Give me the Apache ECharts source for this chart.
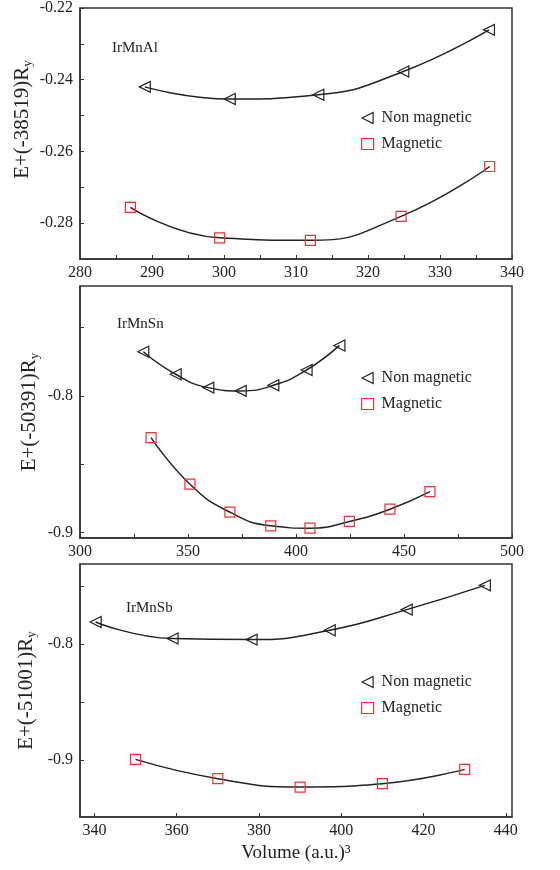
<!DOCTYPE html>
<html>
<head>
<meta charset="utf-8">
<script src="https://cdn.jsdelivr.net/npm/echarts@6/dist/echarts.min.js"></script>
<style>
html, body { margin: 0; padding: 0; background: #fff; }
#chart { width: 560px; height: 870px; }
</style>
</head>
<body>
<div id="chart"></div>
<script>
// IrMnAl
const alNonVol = [289.0, 300.8, 313.1, 324.9, 336.8];
const alNonE = [-0.2420, -0.2454, -0.2442, -0.2377, -0.2261];
const alMagVol = [287.0, 299.4, 312.0, 324.6, 336.9];
const alMagE = [-0.2756, -0.2841, -0.2848, -0.2781, -0.2642];
// IrMnSn
const snNonVol = [329.3, 344.3, 359.4, 374.4, 389.5, 404.9, 420.1];
const snNonE = [-0.7676, -0.7841, -0.7939, -0.7963, -0.7922, -0.7810, -0.7630];
const snMagVol = [332.9, 350.9, 369.4, 388.3, 406.5, 424.7, 443.5, 462.0];
const snMagE = [-0.8305, -0.8646, -0.8851, -0.8951, -0.8968, -0.8919, -0.8829, -0.8700];
// IrMnSb
const sbNonVol = [340.3, 359.0, 378.2, 397.2, 415.9, 434.9];
const sbNonE = [-0.7811, -0.7954, -0.7963, -0.7883, -0.7705, -0.7496];
const sbMagVol = [350, 370, 390, 410, 430];
const sbMagE = [-0.8994, -0.9160, -0.9232, -0.9203, -0.9080];

// axis ticks / labels
const alXTicks = [280, 285, 290, 295, 300, 305, 310, 315, 320, 325, 330, 335, 340];
const alXLabels = [280, 290, 300, 310, 320, 330, 340];
const alYTicks = [-0.28, -0.27, -0.26, -0.25, -0.24, -0.23, -0.22];
const alYLabels = [-0.28, -0.26, -0.24, -0.22];
const snXTicks = [300, 325, 350, 375, 400, 425, 450, 475, 500];
const snXLabels = [300, 350, 400, 450, 500];
const snYTicks = [-0.9, -0.85, -0.8, -0.75];
const snYLabels = [-0.9, -0.8];
const sbXTicks = [340, 360, 380, 400, 420, 440];
const sbXLabels = [340, 360, 380, 400, 420, 440];
const sbYTicks = [-0.9, -0.85, -0.8, -0.75];
const sbYLabels = [-0.9, -0.8];

const names = ['IrMnAl', 'IrMnSn', 'IrMnSb'];
const offsets = ['-38519', '-50391', '-51001'];

const FONT = '"Liberation Serif", "DejaVu Serif", serif';
const TEXT = '#222';
const triIcon = 'path://M0,5L10,0L10,10Z';

const panels = [
    { top: 8, height: 251, x: [280, 340], y: [-0.29, -0.22], xt: alXTicks, xl: alXLabels, yt: alYTicks, yl: alYLabels,
      non: [alNonVol, alNonE], mag: [alMagVol, alMagE], gap: 46, shift: 28, label: [112, 41], legendTop: 105 },
    { top: 286, height: 252, x: [300, 500], y: [-0.904, -0.7195], xt: snXTicks, xl: snXLabels, yt: snYTicks, yl: snYLabels,
      non: [snNonVol, snNonE], mag: [snMagVol, snMagE], gap: 39, shift: 0, label: [117, 317], legendTop: 365 },
    { top: 564, height: 253, x: [336.5, 441.5], y: [-0.949, -0.7312], xt: sbXTicks, xl: sbXLabels, yt: sbYTicks, yl: sbYLabels,
      non: [sbNonVol, sbNonE], mag: [sbMagVol, sbMagE], gap: 42, shift: 0, label: [126, 601], legendTop: 669 }
];

const zip = (a, b) => a.map((v, i) => [v, b[i]]);

const option = {
    backgroundColor: '#fff',
    animation: false,
    title: [],
    legend: [],
    grid: [],
    xAxis: [],
    yAxis: [],
    series: []
};

panels.forEach((p, i) => {
    option.grid.push({
        left: 80, width: 432, top: p.top, height: p.height,
        outerBoundsMode: 'none', containLabel: false,
        show: true, borderColor: '#333', borderWidth: 1.5, backgroundColor: 'transparent'
    });
    option.title.push({
        text: names[i], left: p.label[0], top: p.label[1], padding: 0,
        textStyle: { fontFamily: FONT, fontSize: 15, fontWeight: 'normal', color: TEXT }
    });
    option.xAxis.push({
        type: 'value', gridIndex: i, min: p.x[0], max: p.x[1],
        name: i === 2 ? 'Volume (a.u.)\u00b3' : '',
        nameLocation: 'middle', nameGap: 27, nameMoveOverlap: false,
        nameTextStyle: { fontFamily: FONT, fontSize: 19, color: TEXT },
        axisLine: { lineStyle: { color: '#333', width: 1.5 } },
        axisTick: { inside: true, length: 4, customValues: p.xt, lineStyle: { color: '#333' } },
        axisLabel: { customValues: p.xl, fontFamily: FONT, fontSize: 16, color: TEXT, margin: 6 },
        splitLine: { show: false }
    });
    option.yAxis.push({
        type: 'value', gridIndex: i, min: p.y[0], max: p.y[1],
        name: '{a|E+(' + offsets[i] + ')R}{b|y}',
        nameLocation: 'middle', nameGap: p.gap, nameMoveOverlap: false,
        nameTextStyle: {
            color: TEXT,
            padding: [0, 0, 0, p.shift],
            rich: {
                a: { fontFamily: FONT, fontSize: 21, color: TEXT, lineHeight: 24 },
                b: { fontFamily: FONT, fontSize: 13, color: TEXT, lineHeight: 13, verticalAlign: 'bottom' }
            }
        },
        axisLine: { lineStyle: { color: '#333', width: 1.5 } },
        axisTick: { inside: true, length: 4, customValues: p.yt, lineStyle: { color: '#333' } },
        axisLabel: { customValues: p.yl, fontFamily: FONT, fontSize: 16, color: TEXT, margin: 7 },
        splitLine: { show: false }
    });
    option.legend.push({
        orient: 'vertical', left: 356, top: p.legendTop,
        itemWidth: 12, itemHeight: 11, itemGap: 10,
        textStyle: { fontFamily: FONT, fontSize: 16, color: TEXT, padding: [0, 0, 0, 3] },
        data: [
            { name: 'Non magnetic' + ' '.repeat(i), icon: triIcon, itemStyle: { color: 'transparent', borderColor: '#222', borderWidth: 1.2 } },
            { name: 'Magnetic' + ' '.repeat(i), icon: 'rect', itemStyle: { color: 'transparent', borderColor: '#f03030', borderWidth: 1.2 } }
        ]
    });
    option.series.push({
        name: 'Non magnetic' + ' '.repeat(i), type: 'line', xAxisIndex: i, yAxisIndex: i,
        data: zip(p.non[0], p.non[1]), smooth: 0.5,
        symbol: triIcon, symbolSize: [11, 11],
        itemStyle: { color: 'transparent', borderColor: '#222', borderWidth: 1.2 },
        lineStyle: { color: '#222', width: 1.5 }
    });
    option.series.push({
        name: 'Magnetic' + ' '.repeat(i), type: 'line', xAxisIndex: i, yAxisIndex: i,
        data: zip(p.mag[0], p.mag[1]), smooth: 0.5,
        symbol: 'rect', symbolSize: 10,
        itemStyle: { color: 'transparent', borderColor: '#f03030', borderWidth: 1.2 },
        lineStyle: { color: '#222', width: 1.5 }
    });
});

echarts.init(document.getElementById('chart')).setOption(option);
</script>
</body>
</html>
